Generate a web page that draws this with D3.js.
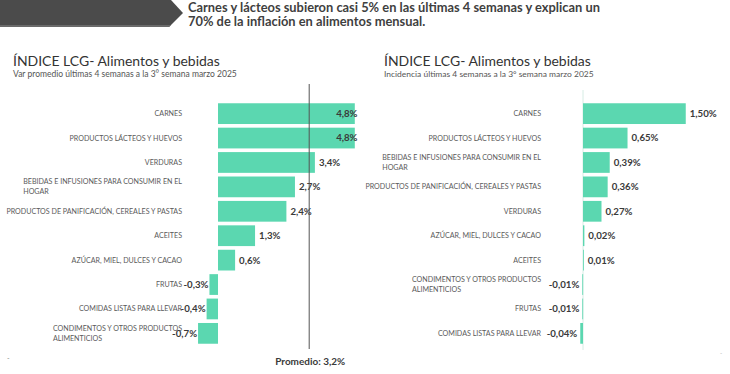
<!DOCTYPE html>
<html><head><meta charset="utf-8">
<script src="https://cdn.jsdelivr.net/npm/d3@7"></script>
<style>
html,body{margin:0;padding:0;background:#fff;}
svg{display:block;font-family:Lato,"Open Sans",sans-serif;}
</style></head>
<body>
<svg id="chart" width="730" height="374"></svg>
<script>
// ---------- DATA ----------
const headerLines = [
  "Carnes y lácteos subieron casi 5% en las últimas 4 semanas y explican un",
  "70% de la inflación en alimentos mensual."
];
const chartTitle = "ÍNDICE LCG- Alimentos y bebidas";
const leftSubtitle = "Var promedio últimas 4 semanas a la 3° semana marzo 2025";
const rightSubtitle = "Incidencia últimas 4 semanas a la 3° semana marzo 2025";

const leftCategories = [
  "CARNES",
  "PRODUCTOS LÁCTEOS Y HUEVOS",
  "VERDURAS",
  "BEBIDAS E INFUSIONES PARA CONSUMIR EN EL\nHOGAR",
  "PRODUCTOS DE PANIFICACIÓN, CEREALES Y PASTAS",
  "ACEITES",
  "AZÚCAR, MIEL, DULCES Y CACAO",
  "FRUTAS",
  "COMIDAS LISTAS PARA LLEVAR",
  "CONDIMENTOS Y OTROS PRODUCTOS\nALIMENTICIOS"
];
const leftValues = [4.8, 4.8, 3.4, 2.7, 2.4, 1.3, 0.6, -0.3, -0.4, -0.7];
const leftAverage = 3.2;
const averageLabel = "Promedio: 3,2%";

const rightCategories = [
  "CARNES",
  "PRODUCTOS LÁCTEOS Y HUEVOS",
  "BEBIDAS E INFUSIONES PARA CONSUMIR EN EL\nHOGAR",
  "PRODUCTOS DE PANIFICACIÓN, CEREALES Y PASTAS",
  "VERDURAS",
  "AZÚCAR, MIEL, DULCES Y CACAO",
  "ACEITES",
  "CONDIMENTOS Y OTROS PRODUCTOS\nALIMENTICIOS",
  "FRUTAS",
  "COMIDAS LISTAS PARA LLEVAR"
];
const rightValues = [1.50, 0.65, 0.39, 0.36, 0.27, 0.02, 0.01, -0.01, -0.01, -0.04];

// ---------- STYLE ----------
const BAR = "#5bd7b0";
const TXT = "#3a3a3a";
const LBL = "#5a5a5a";
const svg = d3.select("#chart");
const locale = d3.formatLocale({decimal: ",", thousands: ".", grouping: [3], currency: ["$", ""], minus: "-"});
const fmt1 = locale.format(".1f"), fmt2 = locale.format(".2f");

// font-size fitting helper
function fitSize(str, weight, target, base) {
  const t = svg.append("text").attr("font-size", base).attr("font-weight", weight).text(str);
  const w = t.node().getComputedTextLength();
  t.remove();
  return base * target / w;
}
const fsHeader = fitSize(headerLines[0], 700, 412, 13);
const fsTitle = fitSize(chartTitle, 400, 207, 17);
const fsSubL = fitSize(leftSubtitle, 400, 224, 8);
const fsSubR = fitSize(rightSubtitle, 400, 210, 8);
const fsCat = fitSize("PRODUCTOS DE PANIFICACIÓN, CEREALES Y PASTAS", 400, 176, 7.5);
const fsVal = fitSize("1,50%", 700, 27, 10);
const fsAvg = fitSize(averageLabel, 700, 70, 11);

// ---------- HEADER BANNER ----------
svg.append("path")
  .attr("d", "M0,0 L171,0 L183,13 L169,27 L0,27 Z")
  .attr("fill", "#4b4b4b");
svg.append("path")
  .attr("d", "M0,25 L171,25 L169,27 L0,27 Z")
  .attr("fill", "#6a6a6a");
svg.selectAll("text.header").data(headerLines).join("text")
  .attr("class", "header")
  .attr("x", 188).attr("y", (d, i) => 11.5 + i * 14.5)
  .attr("font-size", fsHeader).attr("font-weight", 700).attr("fill", "#3f3f3f")
  .text(d => d);

// ---------- PANEL FUNCTION ----------
function panel(opts) {
  const g = svg.append("g");
  g.append("text").attr("x", opts.titleX).attr("y", 66)
    .attr("font-size", fsTitle).attr("fill", "#333").text(chartTitle);
  g.append("text").attr("x", opts.titleX).attr("y", 77)
    .attr("font-size", opts.subSize).attr("fill", "#555").text(opts.subtitle);

  const y = d3.scaleBand().domain(opts.categories).range([99.6, 347.4]).padding(0.15);
  const x = d3.scaleLinear().domain(opts.domain).range(opts.range);
  const data = opts.categories.map((c, i) => ({c, v: opts.values[i]}));

  if (opts.axisLine) {
    g.append("line").attr("x1", x(0)).attr("x2", x(0)).attr("y1", 90).attr("y2", 350)
      .attr("stroke", "#d6ece4").attr("stroke-width", 1);
  }

  g.selectAll("rect.bar").data(data).join("rect")
    .attr("class", "bar")
    .attr("x", d => x(Math.min(0, d.v)))
    .attr("y", d => y(d.c))
    .attr("width", d => Math.max(Math.abs(x(d.v) - x(0)), 0.8))
    .attr("height", y.bandwidth())
    .attr("fill", BAR);

  // category labels (multi-line left-aligned inside right-aligned block)
  data.forEach(d => {
    const lines = d.c.split("\n");
    const cy = y(d.c) + y.bandwidth() / 2;
    const t = g.append("text").attr("font-size", fsCat).attr("fill", LBL);
    if (lines.length === 1) {
      t.attr("x", opts.labelRight).attr("y", cy).attr("dy", "0.35em")
        .attr("text-anchor", "end").text(lines[0]);
    } else {
      lines.forEach((l, i) => {
        t.append("tspan").attr("y", cy + (i - (lines.length - 1) / 2) * 10).attr("dy", "0.35em").text(l);
      });
      const w = d3.max(t.selectAll("tspan").nodes(), n => n.getComputedTextLength());
      t.selectAll("tspan").attr("x", opts.labelRight - w);
    }
  });

  // value labels
  const plotRight = x(opts.domain[1]) - 3;
  g.selectAll("text.val").data(data).join("text")
    .attr("class", "val")
    .attr("font-size", fsVal).attr("font-weight", 700).attr("fill", TXT)
    .attr("y", d => y(d.c) + y.bandwidth() / 2).attr("dy", "0.35em")
    .text(d => opts.fmt(d.v) + "%")
    .each(function (d) {
      const w = this.getComputedTextLength();
      const s = d3.select(this);
      if (d.v >= 0) {
        s.attr("x", Math.min(x(d.v) + opts.gap, plotRight - w)).attr("text-anchor", "start");
      } else {
        s.attr("x", x(d.v) - opts.negGap).attr("text-anchor", "end");
      }
    });
  return {g, x, y};
}

const L = panel({
  titleX: 13, subtitle: leftSubtitle, subSize: fsSubL,
  categories: leftCategories, values: leftValues,
  domain: [-1, 5], range: [189.5, 360.5],
  labelRight: 182, fmt: fmt1, gap: 4, negGap: 1, axisLine: false
});

// average line
L.g.append("line")
  .attr("x1", L.x(leftAverage)).attr("x2", L.x(leftAverage))
  .attr("y1", 84).attr("y2", 349)
  .attr("stroke", "#555").attr("stroke-width", 1);
L.g.append("text")
  .attr("x", L.x(leftAverage) + 36).attr("y", 365)
  .attr("text-anchor", "end")
  .attr("font-size", fsAvg).attr("font-weight", 700).attr("fill", TXT)
  .text(averageLabel);

const R = panel({
  titleX: 384, subtitle: rightSubtitle, subSize: fsSubR,
  categories: rightCategories, values: rightValues,
  domain: [-0.1, 2.0], range: [583 - 6.85, 583 + 137],
  labelRight: 541, fmt: fmt2, gap: 4, negGap: 3, axisLine: true
});

// small stray marks as in the source slide
svg.append("text").attr("x", 7).attr("y", 361).attr("font-size", 7).attr("fill", "#888").text("-");
svg.append("text").attr("x", 720).attr("y", 355).attr("font-size", 6).attr("fill", "#aaa").text("-");
</script>
</body></html>
